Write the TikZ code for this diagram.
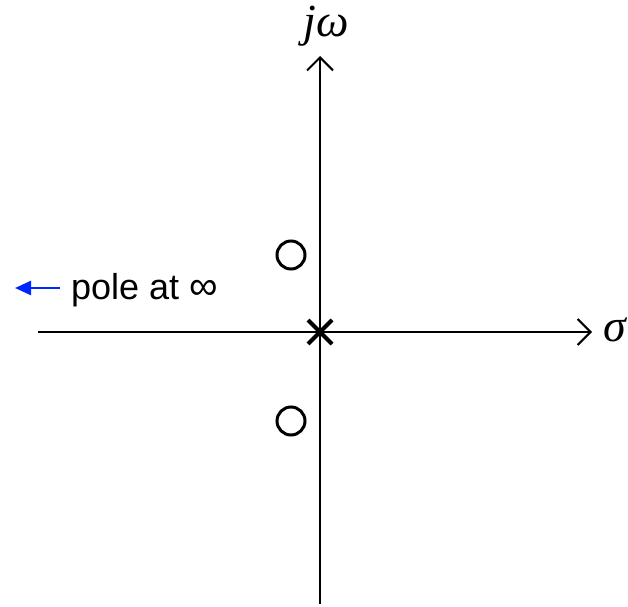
\documentclass[tikz,border=0pt]{standalone}
\usepackage{fontspec}
\setmainfont{Liberation Sans}
\newfontfamily\timesfont{Liberation Serif}
\usepackage{tikz}
\usetikzlibrary{positioning,arrows.meta}
\tikzset{
  axisline/.style={-{Straight Barb[length=13pt, width=26pt, line width=2pt]}, line width=2pt},
  zeromark/.style={draw, circle, line width=3pt, minimum size=28pt, inner sep=0pt},
  polemark/.style={line width=4pt},
  infarrow/.style={-{Triangle[length=16pt, width=14pt]}, line width=2.5pt, blue!85!cyan},
  axlabel/.style={font=\fontsize{46}{50}\timesfont\itshape, inner sep=0pt},
  notelabel/.style={font=\fontsize{36}{40}\selectfont, inner sep=0pt, anchor=west}
}
\begin{document}
\begin{tikzpicture}[x=1pt, y=1pt]
  \useasboundingbox (0,0) rectangle (628,606);
  % axes
  \coordinate (origin) at (320,274);
  \coordinate (xstart) at (38,274);
  \coordinate (xend) at (592,274);
  \coordinate (ystart) at (320,2);
  \coordinate (yend) at (320,550);
  \draw[axisline] (xstart) -- (xend);
  \draw[axisline] (ystart) -- (yend);
  \node[axlabel] (sigma) at (615,276) {σ};
  \node[axlabel] (jw) at (326,580) {jω};
  % zeros and pole
  \node[zeromark] (zup) at (291,351) {};
  \node[zeromark] (zdown) at (291,185) {};
  \draw[polemark] ([shift={(-12,-12)}]origin) -- ([shift={(12,12)}]origin);
  \draw[polemark] ([shift={(-12,12)}]origin) -- ([shift={(12,-12)}]origin);
  % pole at infinity
  \node[notelabel] (polelbl) at (71,316) {pole at {\fontsize{40}{40}\selectfont ∞}};
  \coordinate (inftip) at (15,318);
  \draw[infarrow] ([xshift=-11pt]polelbl.west |- inftip) -- (inftip);
\end{tikzpicture}
\end{document}
